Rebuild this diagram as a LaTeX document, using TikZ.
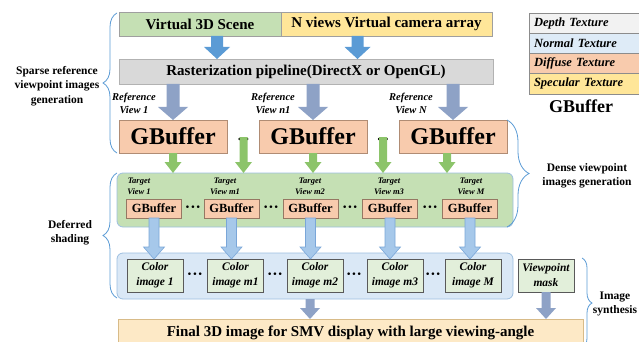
\documentclass[tikz,border=0pt]{standalone}
\usepackage{fontspec}
\setmainfont{Liberation Serif}
\usetikzlibrary{calc,decorations.pathreplacing}

\definecolor{scenegreen}{HTML}{C5E0B4}
\definecolor{camyellow}{HTML}{FFE699}
\definecolor{rastgray}{HTML}{D9D9D9}
\definecolor{gbsalmon}{HTML}{F8CBAD}
\definecolor{gbedge}{HTML}{B08C74}
\definecolor{panelblue}{HTML}{DAE8F6}
\definecolor{paneledge}{HTML}{9DBFE0}
\definecolor{imggreen}{HTML}{E2EFDA}
\definecolor{finalcream}{HTML}{FDE9C6}
\definecolor{finaledge}{HTML}{D8BB88}
\definecolor{depthgray}{HTML}{F2F2F2}
\definecolor{normalblue}{HTML}{DEEBF7}
\definecolor{arrblue}{HTML}{5B9BD5}
\definecolor{arrslate}{HTML}{8EA2C6}
\definecolor{arrgreen}{HTML}{8CC46A}
\definecolor{arrsky}{HTML}{A6C8EA}
\definecolor{arrskyedge}{HTML}{7AA6D8}
\definecolor{bracecol}{HTML}{5B9BD5}

\tikzset{
  % wide block arrow built between two named points (start on top, tip below)
  blockarrow/.style n args={3}{to path={let \p1=(\tikztostart),\p2=(\tikztotarget) in
    (\x1-#1,\y1) -- (\x1+#1,\y1) -- (\x1+#1,\y2+#3) -- (\x1+#2,\y2+#3)
    -- (\x1,\y2) -- (\x1-#2,\y2+#3) -- (\x1-#1,\y2+#3) -- cycle}},
  toparrow/.style={fill=arrblue, blockarrow={6pt}{13pt}{12pt}},
  refarrow/.style={fill=arrslate, blockarrow={6.5pt}{15pt}{13pt}},
  greenarrow/.style={fill=arrgreen, blockarrow={4pt}{8.5pt}{11pt}},
  skyarrow/.style={fill=arrsky, draw=arrskyedge, line width=0.6pt, blockarrow={5pt}{10.5pt}{12pt}},
  outarrow/.style={fill=arrslate, blockarrow={4.5pt}{10pt}{11pt}},
  box/.style={draw=gray!75, line width=0.7pt, inner sep=0pt},
  bigfont/.style={font=\bfseries\fontsize{15}{18}\selectfont},
  bigbuf/.style={box, draw=gbedge, fill=gbsalmon, minimum width=108pt, minimum height=33pt,
    font=\bfseries\fontsize{24}{28}\selectfont},
  smallbuf/.style={box, draw=gbedge!85!black, fill=gbsalmon, minimum width=55pt, minimum height=19pt,
    font=\bfseries\fontsize{12.5}{15}\selectfont},
  colorimg/.style={box, draw=black!65, fill=imggreen, minimum width=56pt, minimum height=33pt,
    align=center, font=\bfseries\itshape\fontsize{11.5}{15}\selectfont},
  reflabel/.style={align=center, font=\bfseries\itshape\fontsize{10.5}{13}\selectfont},
  tgtlabel/.style={align=center, font=\bfseries\itshape\fontsize{8.5}{11}\selectfont},
  sidelabel/.style={align=center, font=\bfseries\fontsize{11.5}{14.5}\selectfont},
  bigdots/.style={font=\bfseries\fontsize{15}{18}\selectfont},
  middots/.style={anchor=base, font=\bfseries\fontsize{16}{18}\selectfont},
  legrow/.style={draw=black!45, line width=0.6pt, anchor=north west, minimum height=20.25pt,
    text width=104pt, inner xsep=5pt, inner ysep=0pt, align=left,
    font=\bfseries\itshape\fontsize{12.5}{14}\selectfont},
  bracket/.style={draw=bracecol, line width=0.8pt, decorate},
}

\begin{document}
\begin{tikzpicture}[x=1pt, y=-1pt, every node/.style={inner sep=0pt, outer sep=0pt}]
\useasboundingbox (0,0) rectangle (639,342);

% ---- input: scene and camera array ----
\node[box, fill=scenegreen, minimum width=162pt, minimum height=24pt, bigfont] (vs) at (200,24) {Virtual 3D Scene};
\node[box, fill=camyellow, minimum width=211pt, minimum height=24pt, bigfont] (nv) at (386.5,24) {N views Virtual camera array};

% ---- rasterization ----
\node[box, draw=gray!60, fill=rastgray, minimum width=374pt, minimum height=25pt, bigfont] (rast) at (306,71.5)
  {Rasterization pipeline(DirectX or OpenGL)};

\path[toparrow] ([xshift=17pt]vs.south) to ([xshift=17pt]vs.south |- rast.north);
\path[toparrow] ([xshift=-29pt]nv.south) to ([xshift=-29pt]nv.south |- rast.north);

% ---- reference view GBuffers ----
\node[bigbuf] (gb1) at (173,136.5) {GBuffer};
\node[bigbuf] (gb2) at (313,136.5) {GBuffer};
\node[bigbuf] (gb3) at (453,136.5) {GBuffer};
\node[bigdots] (da) at (243.5,139) {...};
\node[bigdots] (db) at (383,139) {...};

\path[refarrow] (gb1.north |- rast.south) to (gb1.north);
\path[refarrow] (gb2.north |- rast.south) to (gb2.north);
\path[refarrow] (gb3.north |- rast.south) to (gb3.north);

\node[reflabel] (r1) at (134,103.5) {Reference\\View 1};
\node[reflabel] (r2) at (273,103.5) {Reference\\View n1};
\node[reflabel] (r3) at (411,103.5) {Reference\\View N};

% ---- target views panel ----
\node[draw=paneledge, line width=0.8pt, fill=scenegreen, rounded corners=6pt,
  minimum width=396pt, minimum height=54pt] (tp) at (315,200) {};

\path[greenarrow] (gb1.south) to (gb1.south |- tp.north);
\path[greenarrow] ([yshift=3pt]da.south) to (da.south |- tp.north);
\path[greenarrow] (gb2.south) to (gb2.south |- tp.north);
\path[greenarrow] ([yshift=3pt]db.south) to (db.south |- tp.north);
\path[greenarrow] ([xshift=-6pt]gb3.south) to ([xshift=-6pt]gb3.south |- tp.north);

\node[smallbuf] (s1) at (154,208.5) {GBuffer};
\node[smallbuf] (s2) at (231.5,208.5) {GBuffer};
\node[smallbuf] (s3) at (310.5,208.5) {GBuffer};
\node[smallbuf] (s4) at (390,208.5) {GBuffer};
\node[smallbuf] (s5) at (470,208.5) {GBuffer};
\node[middots] (ta) at (193,212) {···};
\node[middots] (tb) at (271,212) {···};
\node[middots] (tc) at (350,212) {···};
\node[middots] (td) at (430,212) {···};

\node[tgtlabel] (t1) at (139,186.5) {Target\\View 1};
\node[tgtlabel] (t2) at (225,186.5) {Target\\View m1};
\node[tgtlabel] (t3) at (310,186.5) {Target\\View m2};
\node[tgtlabel] (t4) at (389,186.5) {Target\\View m3};
\node[tgtlabel] (t5) at (471,186.5) {Target\\View M};

% ---- shaded colour images panel ----
\node[draw=paneledge, line width=0.8pt, fill=panelblue, rounded corners=6pt,
  minimum width=396pt, minimum height=46pt] (cp) at (315,276) {};

\node[colorimg] (c1) at (155,275.5) {Color\\image 1};
\node[colorimg] (c2) at (235.5,275.5) {Color\\image m1};
\node[colorimg] (c3) at (315,275.5) {Color\\image m2};
\node[colorimg] (c4) at (395,275.5) {Color\\image m3};
\node[colorimg] (c5) at (473,275.5) {Color\\image M};
\node[middots] (ca) at (195,279.5) {···};
\node[middots] (cb) at (275,279.5) {···};
\node[middots] (cc) at (354,279.5) {···};
\node[middots] (cd) at (433,279.5) {···};

\path[skyarrow] (s1.south) to (s1.south |- c1.north);
\path[skyarrow] (s2.south) to (s2.south |- c2.north);
\path[skyarrow] (s3.south) to (s3.south |- c3.north);
\path[skyarrow] (s4.south) to (s4.south |- c4.north);
\path[skyarrow] (s5.south) to (s5.south |- c5.north);

\node[colorimg] (vm) at (546,275.5) {Viewpoint\\mask};

% ---- final image ----
\node[box, draw=finaledge, fill=finalcream, minimum width=465pt, minimum height=27pt, bigfont] (fin) at (350.5,332.5)
  {Final 3D image for SMV display with large viewing-angle};

\path[outarrow] ([xshift=-5pt]cp.south) to ([xshift=-5pt]cp.south |- fin.north);
\path[outarrow] (vm.south) to (vm.south |- fin.north);

% ---- stage braces and their labels ----
\draw[bracket, decoration={brace, amplitude=14pt}] (117,153) -- (117,13);
\node[sidelabel] (l1) at (57,86) {Sparse reference\\viewpoint images\\generation};

\draw[bracket, decoration={brace, amplitude=22pt}] (507,120) -- (507,227);
\node[sidelabel] (l2) at (587,176) {Dense viewpoint\\images generation};

\draw[bracket, decoration={brace, amplitude=14pt}] (117,298) -- (117,173);
\node[sidelabel] (l3) at (70,232.5) {Deferred\\shading};

\draw[bracket, decoration={brace, amplitude=10pt}] (582,258) -- (582,348);
\node[sidelabel] (l4) at (615,304) {Image\\synthesis};

% ---- GBuffer legend ----
\node[legrow, fill=depthgray] (g1) at (529,13) {Depth Texture};
\node[legrow, fill=normalblue] (g2) at (g1.south west) {Normal Texture};
\node[legrow, fill=gbsalmon] (g3) at (g2.south west) {Diffuse Texture};
\node[legrow, fill=camyellow] (g4) at (g3.south west) {Specular Texture};
\node[font=\bfseries\fontsize{18}{20}\selectfont] (gl) at (581,106) {GBuffer};

\end{tikzpicture}
\end{document}
